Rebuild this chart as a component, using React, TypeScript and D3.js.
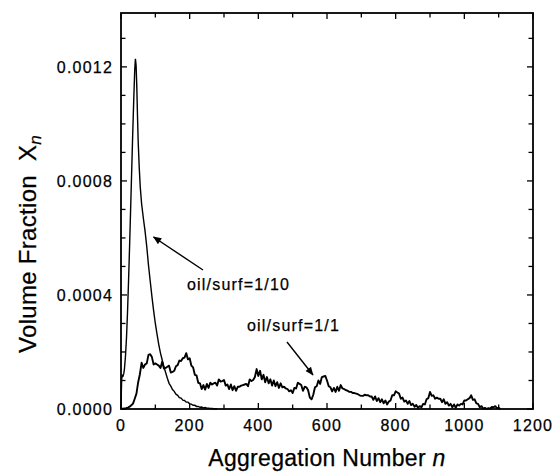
import React from "react";
import * as d3 from "d3";

// Aggregation number axis ticks and volume-fraction axis ticks
const xTicks = [0, 200, 400, 600, 800, 1000, 1200];
const yTicks = [0, 0.0004, 0.0008, 0.0012];

// oil/surf = 1/10 (thin curve): aggregation number n and X_n (in 1e-6)
const thinN = [0, 1, 2, 4, 6, 8, 10, 13, 16, 19, 22, 25, 28, 31, 34, 37, 40, 42, 44, 46, 48, 50, 53, 56, 60, 65, 70, 75, 80, 85, 90, 95, 100, 105, 110, 115, 120, 125, 130, 135, 140, 145, 150, 155, 160, 165, 170, 175, 180, 185, 190, 195, 200, 205, 210, 215, 220, 225, 230, 235, 240, 245, 250, 255, 260, 265, 270, 275, 280];
const thinV = [0, 60, 105, 118, 116, 124, 140, 185, 250, 340, 450, 570, 700, 830, 960, 1080, 1190, 1228, 1205, 1130, 1030, 940, 850, 780, 720, 670, 625, 570, 505, 450, 395, 345, 300, 262, 226, 196, 172, 148, 128, 108, 90, 80, 68, 62, 52, 48, 40, 38, 31, 30, 24, 24, 18, 17, 13, 13, 9, 9, 6, 7, 4, 5, 3, 3, 2, 2, 1, 1, 0];

// oil/surf = 1/1 (thick, noisy curve): X_n (in 1e-6) at n = 0, 5, 10, ... 1105
const thickStep = 5;
const thickV = [
  0, 1, 2, 3, 5, 8, 13, 19, 36, 54, 94, 122, 162, 144, 156, 160, 190, 192, 182, 156,
  160, 156, 152, 144, 166, 142, 144, 148, 152, 128, 130, 134, 150, 154, 170, 168, 178, 180, 196, 174,
  178, 152, 146, 120, 118, 92, 90, 70, 84, 68, 88, 74, 92, 86, 90, 92, 82, 104, 96, 98,
  102, 82, 86, 70, 86, 66, 80, 64, 78, 78, 82, 84, 86, 88, 80, 104, 98, 102, 112, 140,
  116, 134, 104, 120, 94, 112, 90, 104, 82, 100, 80, 94, 74, 90, 76, 78, 72, 70, 62, 66,
  56, 74, 72, 92, 88, 84, 64, 78, 76, 66, 40, 34, 50, 76, 80, 100, 88, 112, 114, 116,
  100, 80, 76, 62, 74, 60, 78, 64, 84, 72, 70, 66, 64, 60, 60, 56, 56, 54, 52, 48,
  46, 46, 50, 48, 48, 44, 44, 32, 44, 28, 38, 24, 34, 20, 30, 16, 26, 30, 48, 48,
  62, 58, 54, 36, 40, 26, 30, 18, 28, 14, 18, 8, 14, 4, 10, 6, 18, 16, 34, 38,
  60, 46, 48, 36, 40, 36, 36, 24, 34, 18, 24, 12, 18, 6, 16, 4, 16, 12, 18, 16,
  30, 30, 34, 38, 48, 32, 34, 20, 18, 6, 10, 1, 4, 0, 3, 1, 7, 6, 10, 3, 4, 0,
];

const labelA = "oil/surf=1/10";
const labelB = "oil/surf=1/1";

const W = 556;
const H = 472;
const M = { left: 121, right: 533, top: 13, bottom: 409 };
const FONT = "'Liberation Sans', Arial, Helvetica, sans-serif";

export default function App() {
  const x = d3.scaleLinear().domain([0, 1200]).range([M.left, M.right]);
  const y = d3.scaleLinear().domain([0, 0.001389]).range([M.bottom, M.top]);

  const thinData = thinN.map((n, i) => [n, thinV[i] * 1e-6] as [number, number]);
  const thickData = thickV.map((v, i) => [i * thickStep, v * 1e-6] as [number, number]);

  const line = d3
    .line<[number, number]>()
    .x((d) => x(d[0]))
    .y((d) => y(d[1]));

  const xMinor = d3.range(0, 1201, 100);
  const yMinor = d3.range(0, 0.00139, 0.0001);

  const tickFmt = d3.format(".4f");
  const txt = { stroke: "#000", strokeWidth: 0.25 };

  return (
    <svg
      width={W}
      height={H}
      style={{ position: "absolute", left: 0, top: 0, background: "#fff" }}
      fontFamily={FONT}
    >
      <rect x={0} y={0} width={W} height={H} fill="#fff" />
      {/* curves */}
      <path d={line(thinData) || ""} fill="none" stroke="#000" strokeWidth={1.4} />
      <path d={line(thickData) || ""} fill="none" stroke="#000" strokeWidth={1.9} strokeLinejoin="round" />

      {/* ticks */}
      {xMinor.map((v) => {
        const len = v % 200 === 0 ? 6 : 4.5;
        return (
          <g key={"xt" + v}>
            <line x1={x(v)} x2={x(v)} y1={M.bottom} y2={M.bottom - len} stroke="#000" strokeWidth={1.3} />
            <line x1={x(v)} x2={x(v)} y1={M.top} y2={M.top + len} stroke="#000" strokeWidth={1.3} />
          </g>
        );
      })}
      {yMinor.map((v, i) => {
        const len = i % 4 === 0 ? 6 : 4.5;
        return (
          <g key={"yt" + i}>
            <line x1={M.left} x2={M.left + len} y1={y(v)} y2={y(v)} stroke="#000" strokeWidth={1.3} />
            <line x1={M.right} x2={M.right - len} y1={y(v)} y2={y(v)} stroke="#000" strokeWidth={1.3} />
          </g>
        );
      })}

      {/* frame */}
      <rect
        x={M.left}
        y={M.top}
        width={M.right - M.left}
        height={M.bottom - M.top}
        fill="none"
        stroke="#000"
        strokeWidth={1.8}
      />

      {/* tick labels */}
      {xTicks.map((v) => (
        <text key={"xl" + v} x={x(v)} y={431} textAnchor="middle" fontSize={16} letterSpacing={1.2} {...txt}>
          {v}
        </text>
      ))}
      {yTicks.map((v) => (
        <text key={"yl" + v} x={113} y={y(v) + 6} textAnchor="end" fontSize={16} letterSpacing={1.2} {...txt}>
          {tickFmt(v)}
        </text>
      ))}

      {/* axis titles */}
      <text x={327} y={466} textAnchor="middle" fontSize={23} letterSpacing={0.3} {...txt}>
        Aggregation Number <tspan fontStyle="italic">n</tspan>
      </text>
      <text transform="translate(36,244) rotate(-90)" textAnchor="middle" fontSize={24} letterSpacing={0.3} {...txt}>
        Volume Fraction{"\u00a0\u00a0"}X
        <tspan fontStyle="italic" fontSize={17} dy={5}>
          n
        </tspan>
      </text>

      {/* annotations */}
      <defs>
        <marker id="ah" viewBox="0 0 12 10" refX={11} refY={5} markerWidth={11} markerHeight={7} orient="auto" markerUnits="userSpaceOnUse">
          <path d="M0,0 L12,5 L0,10 z" fill="#000" />
        </marker>
      </defs>
      <line x1={203} y1={270} x2={153.5} y2={237} stroke="#000" strokeWidth={1.4} markerEnd="url(#ah)" />
      <text x={187} y={290} fontSize={16} letterSpacing={1.2} {...txt}>
        {labelA}
      </text>
      <line x1={287} y1={342} x2={313} y2={375} stroke="#000" strokeWidth={1.4} markerEnd="url(#ah)" />
      <text x={247} y={331} fontSize={16} letterSpacing={1.2} {...txt}>
        {labelB}
      </text>
    </svg>
  );
}
